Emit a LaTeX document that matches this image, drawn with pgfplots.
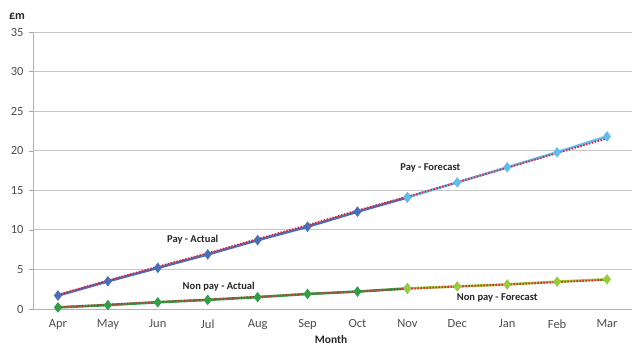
\documentclass[border=0pt]{standalone}
\usepackage{fontspec}
\setmainfont{Carlito}
\usepackage{pgfplots}
\pgfplotsset{compat=1.18}
\definecolor{payact}{HTML}{4A6FB8}
\definecolor{payfc}{HTML}{62BDEE}
\definecolor{npact}{HTML}{2F9E44}
\definecolor{npfc}{HTML}{9BCB3C}
\definecolor{trend}{HTML}{E0223C}
\definecolor{ticktext}{HTML}{4D4D4D}
\definecolor{labeltext}{HTML}{262626}
\begin{document}
\begin{tikzpicture}[x=1pt,y=1pt]
\useasboundingbox (0,0) rectangle (632,347);
\begin{axis}[
  at={(33pt,38pt)}, anchor=south west,
  scale only axis, width=599pt, height=277pt,
  xmin=-0.5, xmax=11.5, ymin=0, ymax=35,
  xtick={0,...,11},
  xticklabels={Apr,May,Jun,Jul,Aug,Sep,Oct,Nov,Dec,Jan,Feb,Mar},
  major x tick style={draw=none},
  extra x ticks={-0.5,0.5,...,11.5},
  extra x tick labels={},
  extra x tick style={major tick length=5pt, tick style={draw=gray!70}},
  ytick={0,5,...,35},
  major tick length=4pt,
  tick align=outside,
  tick style={gray!70},
  ymajorgrids, grid style={gray!45, line width=0.8pt},
  axis x line*=bottom, axis y line*=left,
  axis line style={gray!60, line width=0.8pt},
  ticklabel style={font=\fontsize{12.5}{14}\selectfont, text=ticktext},
  /pgf/number format/assume math mode=true,
  xticklabel style={yshift=-3pt},
  yticklabel style={xshift=-2pt},
  clip=false,
  every axis plot/.append style={line width=2.6pt, mark=diamond*, mark size=3.2pt},
]
% Pay - actual (Apr to Nov)
\addplot[color=payact, mark options={fill=payact}] coordinates {
  (0,1.7) (1,3.5) (2,5.2) (3,6.9) (4,8.7) (5,10.4) (6,12.3) (7,14.1)};
% Pay - forecast (Nov to Mar)
\addplot[color=payfc, mark options={fill=payfc}] coordinates {
  (7,14.1) (8,16.0) (9,17.9) (10,19.8) (11,21.8)};
% Non pay - actual
\addplot[color=npact, mark options={fill=npact}] coordinates {
  (0,0.2) (1,0.5) (2,0.85) (3,1.15) (4,1.5) (5,1.9) (6,2.2) (7,2.6)};
% Non pay - forecast
\addplot[color=npfc, mark options={fill=npfc}] coordinates {
  (7,2.6) (8,2.85) (9,3.1) (10,3.45) (11,3.75)};
% Full-year profiles, dotted
\addplot[color=trend, line width=1.8pt, mark=none, dash pattern=on 1.5pt off 1.5pt] coordinates {
  (0,1.8) (1,3.6) (2,5.35) (3,7.05) (4,8.85) (5,10.6) (6,12.45) (7,14.2) (8,16.0) (9,17.85) (10,19.7) (11,21.55)};
\addplot[color=trend, line width=1.8pt, mark=none, dash pattern=on 1.5pt off 1.5pt] coordinates {
  (0,0.25) (1,0.55) (2,0.9) (3,1.2) (4,1.55) (5,1.9) (6,2.2) (7,2.55) (8,2.85) (9,3.1) (10,3.4) (11,3.7)};
% Series labels
\begin{scope}[every node/.style={font=\bfseries\fontsize{10.5}{12}\selectfont, text=labeltext}]
\node at (axis cs:2.7,8.7) {Pay - Actual};
\node at (axis cs:3.22,2.8) {Non pay - Actual};
\node at (axis cs:7.46,17.8) {Pay - Forecast};
\node at (axis cs:8.8,1.45) {Non pay - Forecast};
\end{scope}
\end{axis}
\node[font=\bfseries\fontsize{12}{14}\selectfont, text=labeltext] at (17,331) {£m};
\node[font=\bfseries\fontsize{11.5}{13}\selectfont, text=labeltext, inner sep=0pt, anchor=south] at (331,3.5) {Month};
\end{tikzpicture}
\end{document}
